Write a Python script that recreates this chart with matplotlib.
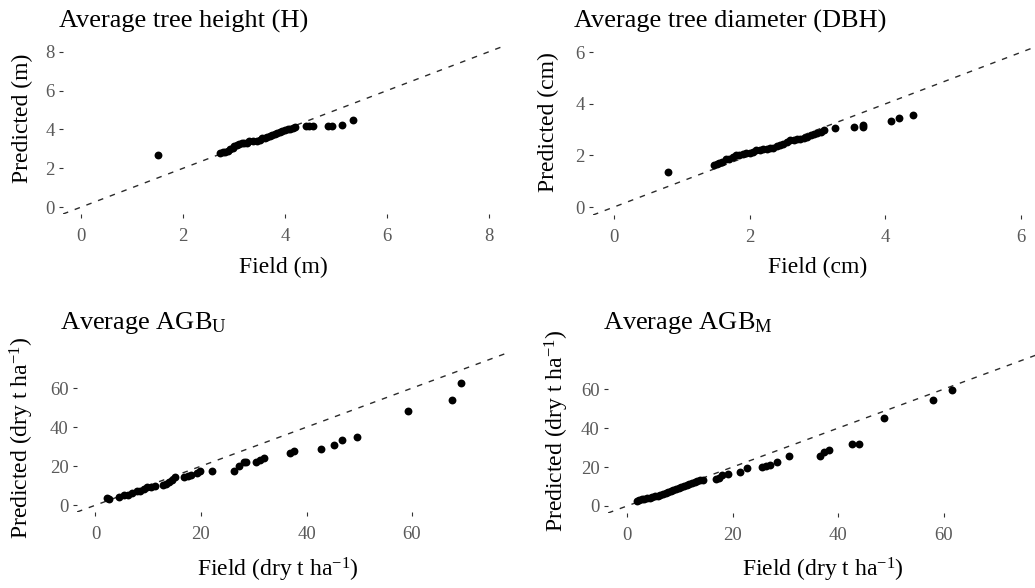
import matplotlib
matplotlib.use("Agg")
import matplotlib.pyplot as plt
import numpy as np

plt.rcParams['font.family'] = ['Liberation Serif', 'DejaVu Serif']
plt.rcParams['mathtext.fontset'] = 'custom'
plt.rcParams['mathtext.rm'] = 'Liberation Serif'
plt.rcParams['mathtext.it'] = 'Liberation Serif:italic'

# ---------------- data ----------------
h_field = [1.50, 2.72, 2.78, 2.82, 2.88, 2.92, 2.97, 3.00, 3.05, 3.10, 3.15, 3.20, 3.25,
           3.30, 3.38, 3.45, 3.50, 3.55, 3.60, 3.65, 3.70, 3.75, 3.80, 3.85, 3.90, 3.95,
           4.00, 4.05, 4.10, 4.15, 4.20, 4.42, 4.48, 4.55, 4.84, 4.92, 5.11, 5.33]
h_pred = [2.70, 2.80, 2.82, 2.85, 2.90, 3.00, 3.05, 3.15, 3.20, 3.25, 3.28, 3.30, 3.32,
          3.38, 3.40, 3.42, 3.48, 3.55, 3.58, 3.62, 3.65, 3.70, 3.75, 3.80, 3.85, 3.90,
          3.95, 4.00, 4.02, 4.08, 4.10, 4.16, 4.16, 4.16, 4.16, 4.16, 4.25, 4.50]

d_field = [0.79, 1.48, 1.52, 1.55, 1.60, 1.65, 1.70, 1.75, 1.80, 1.85, 1.90, 1.95, 2.00,
           2.05, 2.10, 2.15, 2.20, 2.25, 2.30, 2.35, 2.40, 2.45, 2.50, 2.55, 2.60, 2.65,
           2.70, 2.75, 2.80, 2.85, 2.90, 2.95, 3.00, 3.05, 3.10, 3.26, 3.54, 3.67, 3.67,
           4.09, 4.20, 4.41]
d_pred = [1.34, 1.62, 1.65, 1.70, 1.75, 1.85, 1.88, 1.95, 2.00, 2.02, 2.05, 2.08, 2.10,
          2.15, 2.20, 2.20, 2.25, 2.25, 2.28, 2.30, 2.35, 2.40, 2.45, 2.52, 2.60, 2.62,
          2.65, 2.65, 2.68, 2.72, 2.78, 2.82, 2.88, 2.92, 3.00, 3.07, 3.09, 3.10, 3.20,
          3.35, 3.45, 3.57]

u_field = [2.2, 2.6, 4.5, 5.5, 6.2, 7.0, 7.8, 8.5, 9.2, 9.8, 10.5, 11.2, 12.8, 13.3, 14.0,
           14.6, 15.0, 16.8, 17.5, 18.2, 19.2, 19.8, 22.0, 26.2, 27.2, 28.1, 28.6, 30.5,
           31.2, 31.9, 36.9, 37.6, 42.8, 45.2, 46.8, 49.5, 59.2, 67.6, 69.3]
u_pred = [3.5, 3.3, 4.2, 5.0, 5.3, 6.0, 7.5, 7.2, 8.3, 9.2, 9.5, 9.8, 10.2, 10.8, 12.0,
          13.0, 14.3, 14.5, 15.0, 15.3, 16.5, 17.5, 17.6, 17.5, 20.3, 21.9, 22.2, 21.9,
          23.0, 24.4, 26.7, 27.6, 29.0, 30.7, 33.3, 35.0, 48.3, 54.0, 62.4]

m_field = [1.9, 2.3, 2.8, 3.3, 3.8, 4.3, 4.8, 5.3, 5.8, 6.3, 6.8, 7.3, 7.8, 8.3, 8.8, 9.3,
           9.8, 10.3, 10.8, 11.3, 11.8, 12.3, 12.8, 13.3, 13.8, 14.3, 16.8, 17.4, 18.0,
           19.2, 21.4, 22.7, 25.5, 26.3, 27.1, 28.4, 30.6, 36.6, 37.2, 38.2, 42.6, 43.9,
           48.6, 58.0, 61.5]
m_pred = [2.8, 3.2, 3.5, 3.7, 4.0, 4.3, 4.6, 5.0, 5.3, 5.8, 6.3, 6.8, 7.3, 7.8, 8.3, 8.8,
          9.3, 9.8, 10.3, 10.8, 11.3, 11.8, 12.3, 12.8, 13.2, 13.5, 13.6, 14.6, 15.8,
          16.5, 17.6, 19.4, 20.2, 20.5, 21.0, 22.8, 25.4, 25.4, 27.9, 28.8, 31.9, 31.9,
          45.1, 54.2, 59.3]

titles = ["Average tree height (H)", "Average tree diameter (DBH)",
          r"Average AGB$_{\mathrm{U}}$", r"Average AGB$_{\mathrm{M}}$"]
xlabels = ["Field (m)", "Field (cm)", r"Field (dry t ha$^{\mathrm{-1}}$)", r"Field (dry t ha$^{\mathrm{-1}}$)"]
ylabels = ["Predicted (m)", "Predicted (cm)", r"Predicted (dry t ha$^{\mathrm{-1}}$)", r"Predicted (dry t ha$^{\mathrm{-1}}$)"]
ticks = [[0, 2, 4, 6, 8], [0, 2, 4, 6], [0, 20, 40, 60], [0, 20, 40, 60]]
limits = [(-0.36, 8.3), (-0.31, 6.21), (-3.5, 78.0), (-3.6, 78.0)]

# ---------------- layout (pixels) ----------------
W, H = 1035, 588
fig = plt.figure(figsize=(W / 100, H / 100), dpi=100)

def rect(left, right, top, bottom):
    return [left / W, 1 - bottom / H, (right - left) / W, (bottom - top) / H]

axes_px = [(63, 504, 46, 214), (593, 1035, 47, 215), (77, 507, 353, 512), (608, 1039, 354, 513)]
title_px = [(59, 21), (574, 21), (60, 323), (603, 323)]
xlab_px = [(283, 267), (818, 267), (278, 570), (823, 570)]
ylab_px = [(22, 118), (548, 122), (22, 438), (557, 431)]

data = [(h_field, h_pred), (d_field, d_pred), (u_field, u_pred), (m_field, m_pred)]

for i in range(4):
    ax = fig.add_axes(rect(*axes_px[i]))
    lo, hi = limits[i]
    ax.set_xlim(lo, hi)
    ax.set_ylim(lo, hi)
    ax.plot([lo, hi], [lo, hi], ls=(0, (4, 5)), color='#2a2a2a', lw=1.0, zorder=1)
    ax.scatter(data[i][0], data[i][1], s=32, color='black', zorder=2, linewidths=0)
    for s in ax.spines.values():
        s.set_visible(False)
    ax.set_xticks(ticks[i])
    ax.set_yticks(ticks[i])
    ax.tick_params(direction='out', length=3, width=0.8, color='#333333',
                   labelcolor='#5a5a5a', labelsize=13.5)
    ax.tick_params(axis='x', pad=7)
    ax.tick_params(axis='y', pad=3)
    ax.set_facecolor('none')
    fig.text(title_px[i][0] / W, 1 - title_px[i][1] / H, titles[i], fontsize=19,
             ha='left', va='center')
    fig.text(xlab_px[i][0] / W, 1 - xlab_px[i][1] / H, xlabels[i], fontsize=17,
             ha='center', va='center')
    fig.text(ylab_px[i][0] / W, 1 - ylab_px[i][1] / H, ylabels[i], fontsize=17,
             ha='center', va='center', rotation=90)

fig.savefig("out.png", dpi=100)
